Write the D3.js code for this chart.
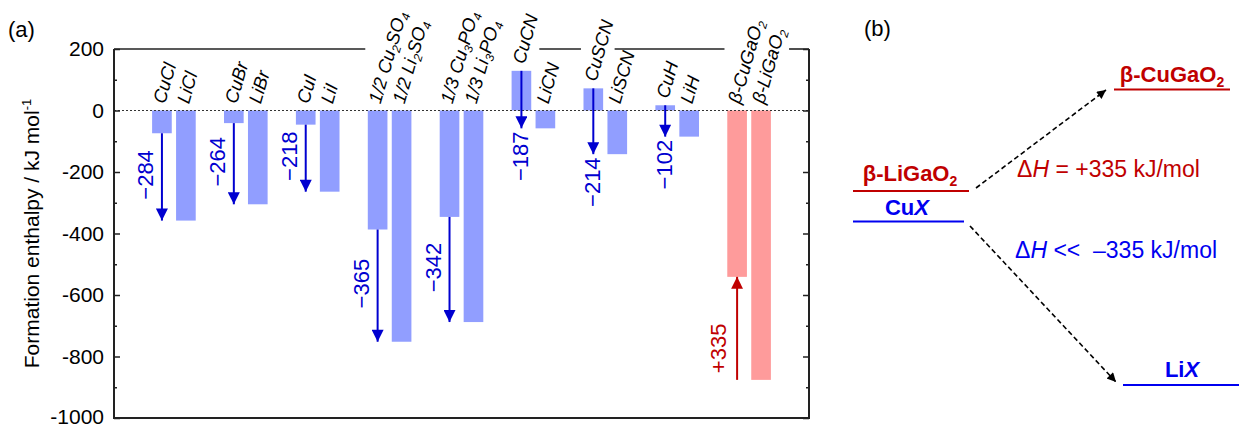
<!DOCTYPE html>
<html>
<head>
<meta charset="utf-8">
<script src="https://cdn.jsdelivr.net/npm/d3@7"></script>
<style>
  body { margin: 0; background: #fff; }
  svg { display: block; font-family: "Liberation Sans", Arial, sans-serif; }
</style>
</head>
<body>
<svg id="chart" width="1244" height="426"></svg>
<script>
/*** DATA ***/
// "_" marks a one-character subscript
var cuLabels = ['CuCl', 'CuBr', 'CuI', '1/2 Cu_2SO_4', '1/3 Cu_3PO_4', 'CuCN', 'CuSCN', 'CuH', 'β-CuGaO_2'];
var liLabels = ['LiCl', 'LiBr', 'LiI', '1/2 Li_2SO_4', '1/3 Li_3PO_4', 'LiCN', 'LiSCN', 'LiH', 'β-LiGaO_2'];
var cuValues = [-74, -41, -46, -387, -346, 129, 72, 17, -541];
var liValues = [-358, -305, -264, -752, -688, -58, -142, -85, -876];
var diffLabels = ['\u2212284', '\u2212264', '\u2212218', '\u2212365', '\u2212342', '\u2212187', '\u2212214', '\u2212102', '+335'];
var yTicks = [200, 0, -200, -400, -600, -800, -1000];

var blueBar = '#919eff', redBar = '#fe9b9b';
var blueArrow = '#0000d0', redArrow = '#c00000';

var svg = d3.select('#chart');

/*** PANEL A ***/
var plot = {left: 114, right: 809, top: 49, bottom: 418};
var x = d3.scaleLinear().domain([-1, 28]).range([plot.left, plot.right]);
var y = d3.scaleLinear().domain([-1000, 200]).range([plot.bottom, plot.top]);
var barW = x(0.82) - x(0);

//arrow markers
var defs = svg.append('defs');
function addMarker(id, color, w, h) {
  defs.append('marker')
    .attr('id', id)
    .attr('viewBox', '0 0 10 10')
    .attr('refX', 10).attr('refY', 5)
    .attr('markerUnits', 'userSpaceOnUse')
    .attr('markerWidth', w).attr('markerHeight', h)
    .attr('orient', 'auto')
    .append('path').attr('d', 'M0,0L10,5L0,10Z').attr('fill', color);
}
addMarker('headBlue', blueArrow, 13, 12);
addMarker('headRed', redArrow, 13, 12);
addMarker('headBlack', '#000', 11, 9);

var rows = cuLabels.map(function(d, i) {
  return {cu: d, li: liLabels[i], cuVal: cuValues[i], liVal: liValues[i], diff: diffLabels[i],
          xCu: 3 * i + 1, xLi: 3 * i + 2, red: i == cuLabels.length - 1};
});

//bars
var bars = [];
rows.forEach(function(r) {
  bars.push({pos: r.xCu, val: r.cuVal, red: r.red});
  bars.push({pos: r.xLi, val: r.liVal, red: r.red});
});
svg.append('g').selectAll('rect')
  .data(bars).enter().append('rect')
  .attr('x', function(d) { return x(d.pos) - barW / 2; })
  .attr('width', barW)
  .attr('y', function(d) { return y(Math.max(0, d.val)); })
  .attr('height', function(d) { return Math.abs(y(d.val) - y(0)); })
  .attr('fill', function(d) { return d.red ? redBar : blueBar; });

//zero line
svg.append('line')
  .attr('x1', plot.left).attr('x2', plot.right)
  .attr('y1', y(0)).attr('y2', y(0))
  .attr('stroke', '#333').attr('stroke-width', 1)
  .attr('stroke-dasharray', '2,2');

//difference arrows
rows.forEach(function(r) {
  var ax = x(r.xCu);
  var y1, y2;
  if (r.red) { y1 = y(r.liVal); y2 = y(r.cuVal); }
  else { y1 = y(r.cuVal); y2 = y(r.liVal); }
  var color = r.red ? redArrow : blueArrow;
  svg.append('line')
    .attr('x1', ax).attr('x2', ax)
    .attr('y1', y1).attr('y2', y2)
    .attr('stroke', color).attr('stroke-width', 2)
    .attr('marker-end', r.red ? 'url(#headRed)' : 'url(#headBlue)');

  //value label
  var lx, ly;
  if (r.cuVal > 0) { lx = ax + 7; ly = y2 + 28; }
  else if (r.red) { lx = ax - 11; ly = (y1 + y2) / 2 + 20; }
  else { lx = ax - 9; ly = (y1 + y2) / 2 - 2; }
  svg.append('text')
    .attr('transform', 'translate(' + lx + ',' + ly + ') rotate(-90)')
    .attr('text-anchor', 'middle')
    .attr('font-size', 22)
    .attr('fill', color)
    .text(r.diff);
});

//rotated compound labels
var labelNodes = [];
function addLabel(str, px, top) {
  var t = svg.append('text')
    .attr('transform', 'translate(' + px + ',' + top + ') rotate(-74)')
    .attr('font-size', 18.5)
    .attr('font-style', 'italic')
    .attr('fill', '#000');
  var shift = 0;
  str.split(/(_.)/).forEach(function(p) {
    if (!p) return;
    if (p[0] == '_') {
      t.append('tspan').attr('font-size', 12).attr('dy', 4).text(p[1]);
      shift = -4;
    } else {
      t.append('tspan').attr('dy', shift).text(p);
      shift = 0;
    }
  });
  labelNodes.push(t.node());
}
rows.forEach(function(r) {
  addLabel(r.cu, x(r.xCu) + 3, y(Math.max(0, r.cuVal)) - 6);
  addLabel(r.li, x(r.xLi) + 3, y(Math.max(0, r.liVal)) - 6);
});

//axes frame
var gAxis = svg.append('g').attr('stroke', '#222').attr('fill', 'none');
gAxis.append('line').attr('x1', plot.left).attr('x2', plot.left)
  .attr('y1', plot.top).attr('y2', plot.bottom + 1).attr('stroke-width', 2);
gAxis.append('line').attr('x1', plot.right).attr('x2', plot.right)
  .attr('y1', plot.top).attr('y2', plot.bottom + 1).attr('stroke-width', 2);
gAxis.append('line').attr('x1', plot.left).attr('x2', plot.right)
  .attr('y1', plot.bottom).attr('y2', plot.bottom).attr('stroke-width', 2);

//top line, broken where labels sit (like opaque text boxes)
var gaps = labelNodes.map(function(n) { return n.getBoundingClientRect(); })
  .filter(function(b) { return b.top < plot.top - 5 && b.bottom > plot.top; })
  .map(function(b) { return [b.left + 1, b.right - 3]; })
  .sort(function(a, b) { return a[0] - b[0]; });
//merge boxes that nearly touch
var merged = [];
gaps.forEach(function(g) {
  var last = merged[merged.length - 1];
  if (last && g[0] - last[1] < 12) last[1] = Math.max(last[1], g[1]);
  else merged.push(g.slice());
});
var segStart = plot.left;
merged.forEach(function(g) {
  if (g[0] > segStart) {
    gAxis.append('line').attr('x1', segStart).attr('x2', g[0])
      .attr('y1', plot.top).attr('y2', plot.top).attr('stroke-width', 1.6);
  }
  segStart = Math.max(segStart, g[1]);
});
if (segStart < plot.right) {
  gAxis.append('line').attr('x1', segStart).attr('x2', plot.right)
    .attr('y1', plot.top).attr('y2', plot.top).attr('stroke-width', 1.6);
}

//ticks
var minor = d3.range(-900, 200, 200);
function ticks(axis, pos, vals, size) {
  svg.append('g').attr('transform', 'translate(' + pos + ',0)')
    .call(axis(y).tickValues(vals).tickSize(size).tickFormat(''))
    .call(function(g) { g.select('.domain').remove(); g.selectAll('line').attr('stroke', '#222').attr('stroke-width', 1.5); });
}
ticks(d3.axisRight, plot.left, yTicks, 6);
ticks(d3.axisRight, plot.left, minor, 3);
ticks(d3.axisLeft, plot.right, yTicks, 6);
ticks(d3.axisLeft, plot.right, minor, 3);

//tick labels
svg.append('g').selectAll('text')
  .data(yTicks).enter().append('text')
  .attr('x', 104).attr('y', function(d) { return y(d) - (d == -1000 ? 1 : 0); })
  .attr('dy', '0.35em')
  .attr('text-anchor', 'end')
  .attr('font-size', 21)
  .text(function(d) { return d; });

//axis title
var yt = svg.append('text')
  .attr('transform', 'translate(39,' + ((plot.top + plot.bottom) / 2) + ') rotate(-90)')
  .attr('text-anchor', 'middle')
  .attr('font-size', 21);
yt.append('tspan').text('Formation enthalpy / kJ mol');
yt.append('tspan').attr('font-size', 13).attr('dy', -8).text('-1');

svg.append('text').attr('x', 8).attr('y', 37).attr('font-size', 22).text('(a)');

/*** PANEL B ***/
var darkRed = '#c00000', blue = '#0000f0';
svg.append('text').attr('x', 864).attr('y', 36).attr('font-size', 22).text('(b)');

function level(x1, x2, ly, color) {
  svg.append('line').attr('x1', x1).attr('x2', x2).attr('y1', ly).attr('y2', ly)
    .attr('stroke', color).attr('stroke-width', 2);
}
function bold(str, cx, by, color) {
  var t = svg.append('text').attr('x', cx).attr('y', by)
    .attr('text-anchor', 'middle').attr('font-size', 22)
    .attr('font-weight', 'bold').attr('fill', color);
  var shift = 0;
  str.split(/(_.|\*.)/).forEach(function(p) {
    if (!p) return;
    if (p[0] == '_') {
      t.append('tspan').attr('font-size', 14).attr('dy', 5).text(p[1]);
      shift = -5;
    } else if (p[0] == '*') {
      t.append('tspan').attr('dy', shift).attr('font-style', 'italic').text(p[1]);
      shift = 0;
    } else {
      t.append('tspan').attr('dy', shift).text(p);
      shift = 0;
    }
  });
}
level(1114, 1230, 89.5, darkRed);
bold('β-CuGaO_2', 1172, 82, darkRed);
level(853, 969, 191, darkRed);
bold('β-LiGaO_2', 910, 181, darkRed);
level(853, 964, 221.5, blue);
bold('Cu*X', 907, 215, blue);
level(1123, 1239, 385, blue);
bold('Li*X', 1182, 377, blue);

svg.append('line').attr('x1', 976).attr('y1', 188).attr('x2', 1106).attr('y2', 90)
  .attr('stroke', '#000').attr('stroke-width', 1.6).attr('stroke-dasharray', '5,3')
  .attr('marker-end', 'url(#headBlack)');
svg.append('line').attr('x1', 970).attr('y1', 226).attr('x2', 1116).attr('y2', 382)
  .attr('stroke', '#000').attr('stroke-width', 1.6).attr('stroke-dasharray', '5,3')
  .attr('marker-end', 'url(#headBlack)');

var t1 = svg.append('text').attr('x', 1017).attr('y', 177).attr('font-size', 23).attr('fill', darkRed);
t1.append('tspan').text('Δ');
t1.append('tspan').attr('font-style', 'italic').text('H');
t1.append('tspan').text(' = +335 kJ/mol');
var t2 = svg.append('text').attr('x', 1015).attr('y', 258).attr('font-size', 23).attr('fill', blue)
  .attr('xml:space', 'preserve');
t2.append('tspan').text('Δ');
t2.append('tspan').attr('font-style', 'italic').text('H');
t2.append('tspan').text(' <<  \u2013335 kJ/mol');
</script>
</body>
</html>
